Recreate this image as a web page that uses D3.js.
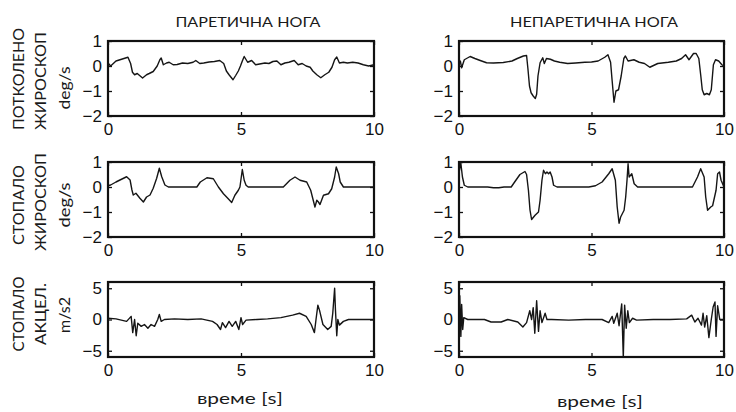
<!DOCTYPE html>
<html><head><meta charset="utf-8">
<script src="https://cdn.jsdelivr.net/npm/d3@7"></script>
<style>
html,body{margin:0;padding:0;background:#fff;}
svg{display:block;}
.lbl{font-family:Lato,"Open Sans",sans-serif;fill:#1a1a1a;}
</style></head>
<body>
<script>
// ---- data (time in s, value in sensor units) ----
const columnTitles = ["ПАРЕТИЧНА НОГА", "НЕПАРЕТИЧНА НОГА"];
const rowLabels = [["ПОТКОЛЕНО","ЖИРОСКОП","deg/s"],["СТОПАЛО","ЖИРОСКОП","deg/s"],["СТОПАЛО","АКЦЕЛ.","m/s2"]];
const xLabel = "време [s]";
const timeTicks = [0,5,10];
const gyroTicks = [-2,-1,0,1];
const accTicks = [-5,0,5];
const gyroDomain = [-2,1];
const accDomain = [-6,6];

const kneeGyroParetic = [[0,0.12],[0.1,0.0],[0.3,0.2],[0.6,0.3],[0.75,0.35],[0.85,0.1],[0.92,-0.25],[1.0,-0.35],[1.1,-0.3],[1.3,-0.48],[1.45,-0.35],[1.55,-0.3],[1.7,-0.22],[1.85,0.0],[1.95,0.25],[2.0,0.32],[2.08,0.05],[2.2,0.12],[2.3,0.15],[2.45,0.05],[2.6,0.06],[2.8,0.12],[3.0,0.1],[3.2,0.15],[3.3,0.22],[3.45,0.1],[3.6,0.12],[3.8,0.16],[4.0,0.18],[4.2,0.22],[4.35,0.1],[4.45,-0.2],[4.55,-0.35],[4.7,-0.55],[4.8,-0.38],[4.9,-0.2],[4.98,0.0],[5.05,0.2],[5.12,0.38],[5.25,0.15],[5.4,0.22],[5.55,0.05],[5.7,0.08],[5.9,0.12],[6.05,0.1],[6.2,0.18],[6.35,0.2],[6.5,0.05],[6.65,0.12],[6.8,0.15],[7.0,0.22],[7.15,0.05],[7.3,0.1],[7.45,0.0],[7.6,-0.05],[7.7,-0.2],[7.85,-0.35],[8.0,-0.47],[8.15,-0.35],[8.3,-0.25],[8.42,-0.05],[8.52,0.25],[8.6,0.36],[8.7,0.12],[8.85,0.15],[9.0,0.12],[9.2,0.15],[9.4,0.12],[9.6,0.05],[9.8,0.0],[10,0.05]];

const kneeGyroNonParetic = [[0,0.1],[0.05,0.2],[0.1,-0.07],[0.2,0.25],[0.42,0.38],[0.6,0.3],[0.8,0.22],[1.04,0.13],[1.3,0.12],[1.67,0.14],[2.0,0.2],[2.2,0.3],[2.43,0.4],[2.55,0.42],[2.6,-0.1],[2.66,-0.8],[2.72,-1.07],[2.8,-1.2],[2.88,-1.3],[2.93,-1.13],[2.98,-0.4],[3.06,0.13],[3.16,0.33],[3.22,0.1],[3.3,0.3],[3.45,0.27],[3.6,0.2],[3.8,0.15],[4.1,0.1],[4.4,0.12],[4.75,0.15],[5.0,0.16],[5.25,0.2],[5.5,0.35],[5.62,0.45],[5.72,0.15],[5.78,-0.6],[5.85,-1.45],[5.92,-1.0],[6.02,-0.95],[6.12,-0.4],[6.22,0.3],[6.28,0.4],[6.38,0.2],[6.6,0.25],[6.8,0.15],[7.0,0.1],[7.2,-0.05],[7.5,0.1],[7.9,0.15],[8.2,0.2],[8.4,0.3],[8.55,0.45],[8.68,0.25],[8.85,0.5],[8.95,0.5],[9.05,0.3],[9.12,-0.35],[9.18,-0.95],[9.25,-1.15],[9.35,-1.1],[9.45,-1.15],[9.52,-0.95],[9.6,0.05],[9.68,0.25],[9.8,0.2],[9.92,0.05],[10,0.0]];

const footGyroParetic = [[0,0.05],[0.1,0.08],[0.3,0.2],[0.45,0.28],[0.7,0.41],[0.83,0.28],[0.9,-0.12],[0.95,-0.32],[1.05,-0.25],[1.2,-0.45],[1.33,-0.6],[1.45,-0.4],[1.58,-0.32],[1.7,-0.05],[1.83,0.35],[1.93,0.75],[2.02,0.41],[2.14,0.08],[2.27,0.0],[2.6,0.0],[3.0,0.0],[3.34,0.0],[3.47,0.2],[3.72,0.37],[3.96,0.33],[4.15,0.0],[4.34,-0.27],[4.52,-0.47],[4.65,-0.62],[4.77,-0.33],[4.9,-0.13],[4.96,0.0],[5.05,0.7],[5.12,0.27],[5.19,0.07],[5.27,0.0],[5.8,0.0],[6.3,0.0],[6.59,0.0],[6.84,0.27],[7.03,0.4],[7.22,0.27],[7.47,0.2],[7.62,-0.13],[7.72,-0.55],[7.78,-0.8],[7.85,-0.53],[7.91,-0.6],[7.97,-0.7],[8.1,-0.33],[8.29,-0.27],[8.41,-0.07],[8.52,0.4],[8.58,0.8],[8.67,0.53],[8.73,0.2],[8.85,0.0],[9.3,0.0],[10,0.0]];

const footGyroNonParetic = [[0,0.55],[0.04,0.81],[0.07,0.95],[0.13,0.4],[0.2,0.07],[0.33,0.0],[0.7,0.0],[1.08,0.0],[1.3,-0.03],[1.5,-0.03],[1.7,0.0],[1.97,0.0],[2.1,0.2],[2.3,0.5],[2.49,0.62],[2.55,0.5],[2.62,-0.13],[2.68,-0.93],[2.74,-1.3],[2.87,-1.13],[3.0,-1.0],[3.06,-0.53],[3.13,0.27],[3.19,0.67],[3.26,0.53],[3.32,0.6],[3.38,0.53],[3.44,0.6],[3.51,0.4],[3.57,0.07],[3.7,0.0],[4.2,0.0],[4.9,0.0],[5.15,0.05],[5.4,0.2],[5.65,0.53],[5.78,0.73],[5.9,0.27],[5.97,-0.8],[6.04,-1.45],[6.1,-1.2],[6.23,-0.93],[6.29,-0.4],[6.34,0.27],[6.38,0.93],[6.42,0.4],[6.52,0.53],[6.61,0.13],[6.74,0.0],[7.5,0.0],[8.2,0.0],[8.81,0.0],[9.0,0.4],[9.12,0.73],[9.25,0.4],[9.31,-0.4],[9.38,-0.93],[9.5,-0.8],[9.57,-0.75],[9.7,-0.13],[9.76,0.53],[9.83,0.6],[9.89,0.27],[10,0.0]];

const footAccParetic = [[0,0.2],[0.3,0.1],[0.5,-0.1],[0.7,-0.3],[0.87,0.5],[0.93,-2.1],[1.0,0.0],[1.06,-2.6],[1.12,-0.6],[1.25,-1.1],[1.37,-0.8],[1.5,-1.4],[1.62,-0.8],[1.75,-1.1],[1.87,0.0],[1.93,0.8],[2.0,-0.3],[2.12,0.0],[2.5,0.1],[3.0,0.0],[3.5,0.1],[3.93,-0.3],[4.1,-0.8],[4.23,-1.6],[4.3,-0.5],[4.42,-1.3],[4.55,-0.3],[4.67,-1.1],[4.8,-0.3],[4.92,-1.6],[5.0,0.3],[5.06,-0.8],[5.19,-0.1],[5.6,0.0],[6.0,0.1],[6.5,0.3],[6.94,0.7],[7.2,1.0],[7.45,0.5],[7.64,-0.8],[7.76,-2.1],[7.82,0.0],[7.89,2.3],[7.95,1.5],[8.08,-0.8],[8.26,-1.6],[8.39,-1.1],[8.45,1.0],[8.52,5.0],[8.55,1.6],[8.6,-2.6],[8.64,0.0],[8.7,-0.9],[8.85,-0.3],[9.04,0.0],[9.5,0.0],[10,0.0]];

const footAccNonParetic = [[0,1.0],[0.03,3.8],[0.07,-2.7],[0.1,2.4],[0.14,-1.6],[0.18,0.3],[0.33,0.0],[0.96,0.0],[1.21,-0.4],[1.59,-0.4],[1.84,0.0],[2.22,-0.4],[2.41,-1.2],[2.55,-0.5],[2.67,1.4],[2.74,0.0],[2.8,1.9],[2.86,-2.2],[2.93,3.0],[3.0,-1.9],[3.06,1.4],[3.13,-0.5],[3.25,1.0],[3.32,0.0],[3.5,0.0],[4.14,-0.1],[4.77,0.0],[5.4,0.0],[5.65,-0.5],[5.78,0.5],[5.84,-0.6],[5.97,1.0],[6.04,-1.0],[6.14,2.5],[6.2,-6.0],[6.25,2.3],[6.31,-1.4],[6.37,1.4],[6.43,-0.5],[6.55,0.2],[6.7,-0.1],[7.33,0.0],[7.96,0.0],[8.59,0.1],[8.78,0.7],[8.9,-0.4],[9.02,0.2],[9.15,-0.9],[9.21,1.0],[9.27,-1.2],[9.35,0.6],[9.43,-2.9],[9.52,0.0],[9.59,2.0],[9.66,2.8],[9.7,-2.7],[9.76,2.2],[9.84,0.0],[10,0.0]];

// ---- layout ----
const W = 736, H = 412;
const colX = [[108,374],[459,724]];
const rowY = [[41,116],[162,237],[282,357]];
const panels = [
  {r:0,c:0,data:kneeGyroParetic,dom:gyroDomain,ticks:gyroTicks},
  {r:0,c:1,data:kneeGyroNonParetic,dom:gyroDomain,ticks:gyroTicks},
  {r:1,c:0,data:footGyroParetic,dom:gyroDomain,ticks:gyroTicks},
  {r:1,c:1,data:footGyroNonParetic,dom:gyroDomain,ticks:gyroTicks},
  {r:2,c:0,data:footAccParetic,dom:accDomain,ticks:accTicks},
  {r:2,c:1,data:footAccNonParetic,dom:accDomain,ticks:accTicks}
];

const svg = d3.select("body").append("svg").attr("width",W).attr("height",H);
const fmt = d3.format("d");

panels.forEach(p=>{
  const [x0,x1] = colX[p.c], [y0,y1] = rowY[p.r];
  const x = d3.scaleLinear().domain([0,10]).range([x0,x1]);
  const y = d3.scaleLinear().domain(p.dom).range([y1,y0]);
  const g = svg.append("g");
  const ax = [
    [d3.axisBottom(x).tickValues(timeTicks).tickSize(-4).tickPadding(7).tickFormat(fmt), `translate(0,${y1})`],
    [d3.axisTop(x).tickValues(timeTicks).tickSize(-4).tickFormat(""), `translate(0,${y0})`],
    [d3.axisLeft(y).tickValues(p.ticks).tickSize(-4).tickPadding(6).tickFormat(fmt), `translate(${x0},0)`],
    [d3.axisRight(y).tickValues(p.ticks).tickSize(-4).tickFormat(""), `translate(${x1},0)`]
  ];
  ax.forEach(([a,t])=>{
    const gg = g.append("g").attr("transform",t).call(a)
      .attr("font-family","'Liberation Sans',Arial,sans-serif").attr("font-size",17);
    gg.select(".domain").remove();
    gg.selectAll(".tick line").attr("stroke","#111").attr("stroke-width",1.3);
    gg.selectAll(".tick text").attr("fill","#111");
  });
  g.append("path").datum(p.data)
    .attr("fill","none").attr("stroke","#151515").attr("stroke-width",1.4)
    .attr("stroke-linejoin","round")
    .attr("d", d3.line().x(d=>x(d[0])).y(d=>y(d[1])));
  g.append("rect").attr("x",x0).attr("y",y0).attr("width",x1-x0).attr("height",y1-y0)
    .attr("fill","none").attr("stroke","#111").attr("stroke-width",2.2);
});

// column titles
const titleX = [248, 594], titleLen = [145, 168];
columnTitles.forEach((t,i)=>{
  svg.append("text").attr("class","lbl").attr("x",titleX[i]).attr("y",27)
    .attr("text-anchor","middle").attr("font-size",14)
    .attr("textLength",titleLen[i]).attr("lengthAdjust","spacingAndGlyphs").text(t);
});
// x labels
[[240,404],[600,407]].forEach(([cx,cy])=>{
  svg.append("text").attr("class","lbl").attr("x",cx).attr("y",cy)
    .attr("text-anchor","middle").attr("font-size",15)
    .attr("textLength",86).attr("lengthAdjust","spacingAndGlyphs").text(xLabel);
});
// row labels (rotated)
const rowCenters = [[79,81,88],[205,202,205],[314,314,315]];
const rowLens = [[102,98,43],[80,98,45],[75,62,36]];
const lineX = [24, 46, 70];
rowLabels.forEach((lines,r)=>{
  lines.forEach((t,j)=>{
    svg.append("text").attr("class","lbl")
      .attr("transform",`translate(${lineX[j]},${rowCenters[r][j]}) rotate(-90)`)
      .attr("text-anchor","middle").attr("font-size",16)
      .attr("textLength",rowLens[r][j]).attr("lengthAdjust","spacingAndGlyphs").text(t);
  });
});
</script>
</body></html>
